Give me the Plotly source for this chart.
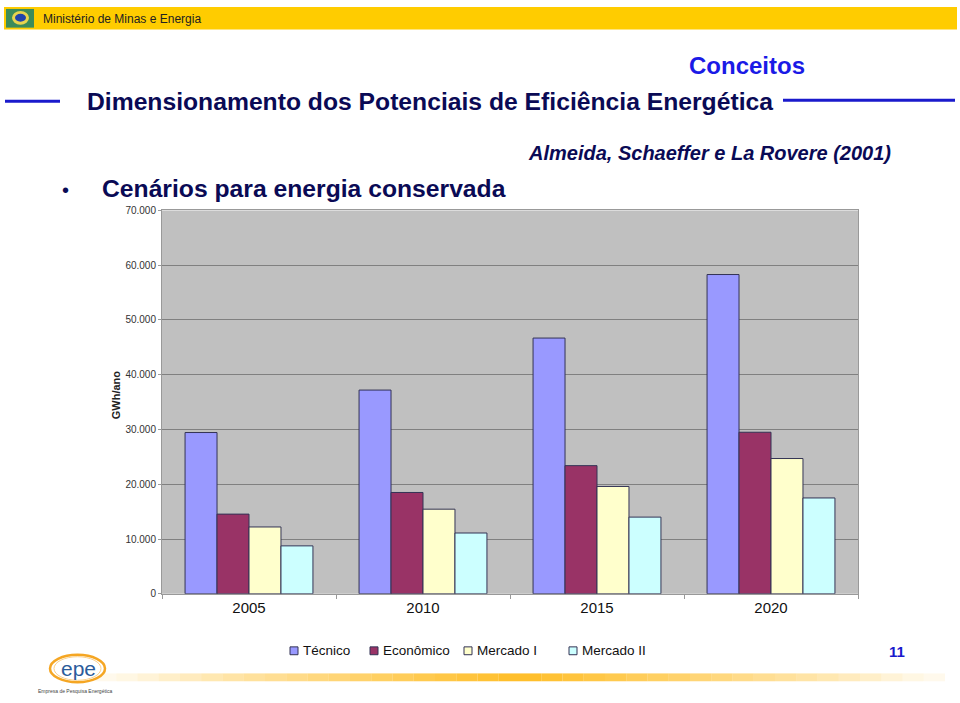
import plotly.graph_objects as go

years = ["2005", "2010", "2015", "2020"]
tecnico = [29450, 37200, 46700, 58300]
economico = [14550, 18500, 23400, 29500]
mercado1 = [12200, 15450, 19600, 24700]
mercado2 = [8750, 11100, 14000, 17500]
series_names = ["Técnico", "Econômico", "Mercado I", "Mercado II"]
series_colors = ["#9999FF", "#993366", "#FFFFCC", "#CCFFFF"]
ytick_vals = [0, 10000, 20000, 30000, 40000, 50000, 60000, 70000]
ytick_text = ["0", "10.000", "20.000", "30.000", "40.000", "50.000", "60.000", "70.000"]

W, H = 960, 703
def px(x):
    return x / W
def py(y):
    return 1 - y / H

fig = go.Figure()
for name, vals, col in zip(series_names, [tecnico, economico, mercado1, mercado2], series_colors):
    fig.add_trace(go.Bar(x=years, y=vals, name=name, showlegend=False,
                         marker=dict(color=col, line=dict(color="#333355", width=1))))

shapes = []
annotations = []
# header bar
shapes.append(dict(type="rect", xref="paper", yref="paper", x0=px(4), x1=px(957), y0=py(24), y1=py(1), fillcolor="#FFCC00", line=dict(width=0), layer="below"))
# emblem icon
shapes.append(dict(type="rect", xref="paper", yref="paper", x0=px(6), x1=px(34), y0=py(22), y1=py(3), fillcolor="#3C8C5A", line=dict(width=0)))
shapes.append(dict(type="circle", xref="paper", yref="paper", x0=px(12), x1=px(29), y0=py(19), y1=py(5), fillcolor="#E8D44D", line=dict(width=0)))
shapes.append(dict(type="circle", xref="paper", yref="paper", x0=px(15), x1=px(26), y0=py(16), y1=py(8), fillcolor="#2244AA", line=dict(width=0)))
annotations.append(dict(text="Ministério de Minas e Energia", x=px(41), y=py(13), xref="paper", yref="paper", xanchor="left", yanchor="middle", showarrow=False, font=dict(family="Liberation Sans, Arial", size=12, color="#222222")))
# title lines
shapes.append(dict(type="line", xref="paper", yref="paper", x0=px(5), x1=px(60), y0=py(97), y1=py(97), line=dict(color="#1A1ACC", width=3)))
shapes.append(dict(type="line", xref="paper", yref="paper", x0=px(783), x1=px(955), y0=py(96), y1=py(96), line=dict(color="#1A1ACC", width=3)))
annotations.append(dict(text="<b>Conceitos</b>", x=px(807), y=py(61), xref="paper", yref="paper", xanchor="right", yanchor="middle", showarrow=False, font=dict(family="Liberation Sans, Arial", size=24, color="#1A1AE6")))
annotations.append(dict(text="<b>Dimensionamento dos Potenciais de Eficiência Energética</b>", x=px(430), y=py(97), xref="paper", yref="paper", xanchor="center", yanchor="middle", showarrow=False, font=dict(family="Liberation Sans, Arial", size=24.7, color="#0A0A55")))
annotations.append(dict(text="<b><i>Almeida, Schaeffer e La Rovere (2001)</i></b>", x=px(893), y=py(150), xref="paper", yref="paper", xanchor="right", yanchor="middle", showarrow=False, font=dict(family="Liberation Sans, Arial", size=20, color="#0A0A55")))
annotations.append(dict(text="•", x=px(65), y=py(187), xref="paper", yref="paper", xanchor="center", yanchor="middle", showarrow=False, font=dict(family="Arial", size=20, color="#0A0A55")))
annotations.append(dict(text="<b>Cenários para energia conservada</b>", x=px(100), y=py(186), xref="paper", yref="paper", xanchor="left", yanchor="middle", showarrow=False, font=dict(family="Liberation Sans, Arial", size=24.7, color="#0A0A55")))
annotations.append(dict(text="<b>GWh/ano</b>", x=px(116), y=py(396), xref="paper", yref="paper", xanchor="center", yanchor="middle", textangle=-90, showarrow=False, font=dict(family="Liberation Sans, Arial", size=11, color="#222222")))
# legend (manual, from series lists)
leg_x = [290, 370, 464, 569]
for lx, name, col in zip(leg_x, series_names, series_colors):
    shapes.append(dict(type="rect", xref="paper", yref="paper", x0=px(lx), x1=px(lx + 8), y0=py(660), y1=py(652), fillcolor=col, line=dict(color="#333355", width=1)))
    annotations.append(dict(text=name, x=px(lx + 11), y=py(656), xref="paper", yref="paper", xanchor="left", yanchor="middle", showarrow=False, font=dict(family="Liberation Sans, Arial", size=13.5, color="#111111")))
# bottom gradient line
n = 40
x0, x1 = 95, 945
for i in range(n):
    a = x0 + (x1 - x0) * i / n
    b = x0 + (x1 - x0) * (i + 1) / n
    t = (i + 0.5) / n
    op = max(0.05, 1 - abs(t - 0.5) * 2) ** 0.8
    shapes.append(dict(type="rect", xref="paper", yref="paper", x0=px(a), x1=px(b), y0=py(687), y1=py(679), fillcolor="rgba(255,190,40,%.2f)" % op, line=dict(width=0), layer="below"))
# epe logo
shapes.append(dict(type="circle", xref="paper", yref="paper", x0=px(50), x1=px(105), y0=py(688), y1=py(660), fillcolor="white", line=dict(color="#F5A623", width=2.5)))
shapes.append(dict(type="circle", xref="paper", yref="paper", x0=px(54), x1=px(101), y0=py(686), y1=py(662), fillcolor="rgba(0,0,0,0)", line=dict(color="#FAD08A", width=1)))
annotations.append(dict(text="epe", x=px(78), y=py(674), xref="paper", yref="paper", xanchor="center", yanchor="middle", showarrow=False, font=dict(family="Liberation Sans, Arial", size=21, color="#2B5C9B")))
annotations.append(dict(text="Empresa de Pesquisa Energética", x=px(75), y=py(697), xref="paper", yref="paper", xanchor="center", yanchor="middle", showarrow=False, font=dict(family="Liberation Sans, Arial", size=5, color="#444444")))
annotations.append(dict(text="<b>11</b>", x=px(897), y=py(657), xref="paper", yref="paper", xanchor="center", yanchor="middle", showarrow=False, font=dict(family="Liberation Sans, Arial", size=15, color="#1A1ACC")))

fig.update_layout(
    width=W, height=H,
    margin=dict(l=0, r=0, t=0, b=0),
    paper_bgcolor="white",
    plot_bgcolor="#C0C0C0",
    barmode="group",
    bargap=0.265,
    bargroupgap=0,
    shapes=shapes,
    annotations=annotations,
    showlegend=False,
    xaxis=dict(domain=[px(162), px(858)], type="category", tickson="boundaries", ticks="outside", ticklen=4, tickcolor="#999999",
               showline=True, linecolor="#999999", linewidth=1, mirror=True, showgrid=False,
               tickfont=dict(family="Liberation Sans, Arial", size=15, color="#111111")),
    yaxis=dict(domain=[py(598), py(208)], range=[0, 70000], tickvals=ytick_vals, ticktext=ytick_text,
               showgrid=True, gridcolor="#808080", gridwidth=1, showline=True, linecolor="#999999", mirror=True,
               ticks="outside", ticklen=3, tickcolor="#999999", zeroline=False,
               tickfont=dict(family="Liberation Sans, Arial", size=10, color="#333333")),
)
fig.write_html("out.html", config={"displayModeBar": False},
               post_script="document.body.style.margin='0';document.body.style.overflow='hidden';")
